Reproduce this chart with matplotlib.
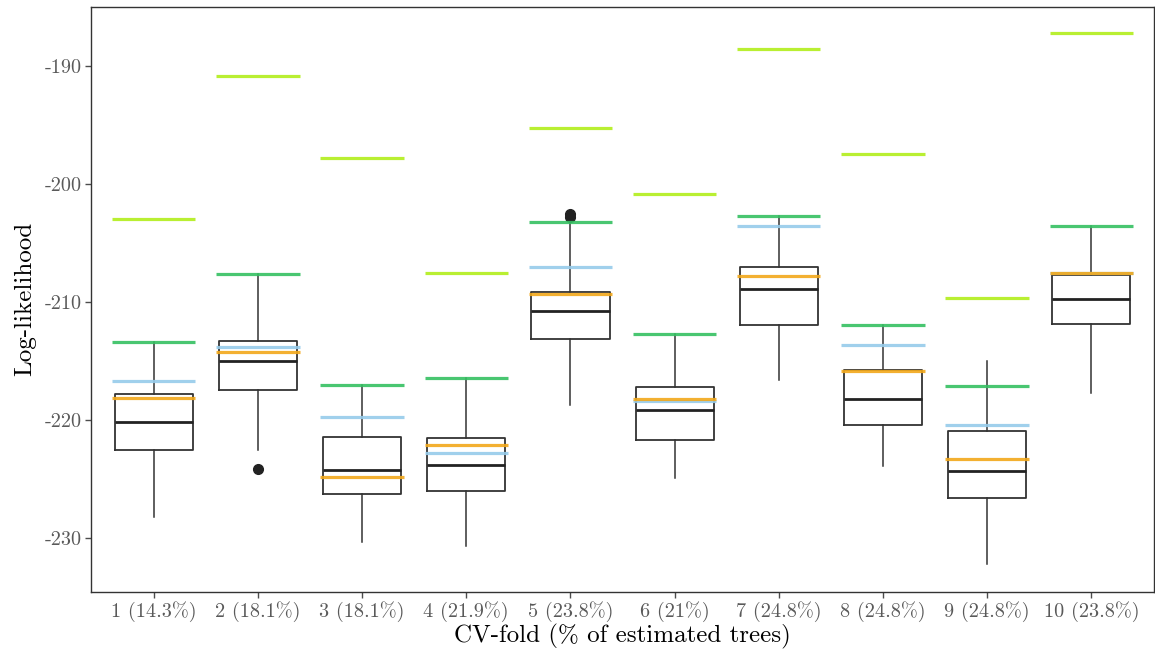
import matplotlib
matplotlib.use('Agg')
import matplotlib.pyplot as plt

# fold labels
folds = ['1 (14.3%)', '2 (18.1%)', '3 (18.1%)', '4 (21.9%)', '5 (23.8%)',
         '6 (21%)', '7 (24.8%)', '8 (24.8%)', '9 (24.8%)', '10 (23.8%)']

# boxplot summaries per fold
whislo = [-228.2, -222.5, -230.3, -230.6, -218.7, -224.9, -216.6, -223.9, -232.2, -217.7]
q1     = [-222.5, -217.4, -226.2, -226.0, -213.1, -221.7, -211.9, -220.4, -226.6, -211.8]
med    = [-220.1, -215.0, -224.2, -223.8, -210.7, -219.1, -208.9, -218.2, -224.3, -209.7]
q3     = [-217.8, -213.3, -221.4, -221.5, -209.1, -217.2, -207.0, -215.7, -220.9, -207.7]
whishi = [-213.4, -207.6, -217.0, -216.4, -203.2, -212.7, -202.7, -211.9, -215.0, -203.5]
fliers = [[], [-224.1], [], [], [-202.5, -202.8], [], [], [], [], []]

# reference lines per fold
yellowgreen = [-202.9, -190.8, -197.8, -207.5, -195.2, -200.8, -188.5, -197.4, -209.6, -187.2]
green       = [-213.4, -207.6, -217.0, -216.4, -203.2, -212.7, -202.7, -211.9, -217.1, -203.5]
lightblue   = [-216.65, -213.8, -219.7, -222.8, -207.0, -218.35, -203.5, -213.6, -220.4, -207.5]
orange      = [-218.1, -214.2, -224.8, -222.1, -209.3, -218.2, -207.8, -215.8, -223.3, -207.5]

plt.rcParams['font.family'] = ['cmr10', 'DejaVu Serif']
plt.rcParams['axes.unicode_minus'] = False

fig = plt.figure(figsize=(11.55, 6.53), dpi=100)
ax = fig.add_axes([0.079, 0.094, 0.920, 0.895])

stats = []
for i in range(len(folds)):
    stats.append({'whislo': whislo[i], 'q1': q1[i], 'med': med[i], 'q3': q3[i],
                  'whishi': whishi[i], 'fliers': fliers[i]})

pos = list(range(1, len(folds) + 1))
ax.bxp(stats, positions=pos, widths=0.75, showcaps=False,
       boxprops=dict(color='#333333', linewidth=1.3),
       whiskerprops=dict(color='#333333', linewidth=1.1),
       medianprops=dict(color='#222222', linewidth=2.0),
       flierprops=dict(marker='o', markerfacecolor='#222222',
                       markeredgecolor='#222222', markersize=7),
       zorder=2)

for vals, col in [(yellowgreen, '#b2ee1c'), (green, '#35c062'),
                  (lightblue, '#96cbea'), (orange, '#f2a81a')]:
    ax.hlines(vals, [p - 0.4 for p in pos], [p + 0.4 for p in pos],
              colors=col, linewidth=2.3, alpha=0.9, zorder=3)

ax.set_xlim(0.4, 10.6)
ax.set_ylim(-234.5, -185.0)
ax.set_yticks([-190, -200, -210, -220, -230])
ax.set_yticklabels(['-190', '-200', '-210', '-220', '-230'])
ax.set_xticks(pos)
ax.set_xticklabels(folds)
ax.tick_params(colors='#4d4d4d', labelsize=14.6, length=4, width=1, pad=3)
for lab in ax.get_xticklabels() + ax.get_yticklabels():
    lab.set_color('#5a5a5a')
for s in ax.spines.values():
    s.set_color('#333333')
    s.set_linewidth(1.0)

ax.set_xlabel('CV-fold (% of estimated trees)', fontsize=18, labelpad=1)
ax.set_ylabel('Log-likelihood', fontsize=18, labelpad=6)

fig.savefig('out.png', dpi=100)
